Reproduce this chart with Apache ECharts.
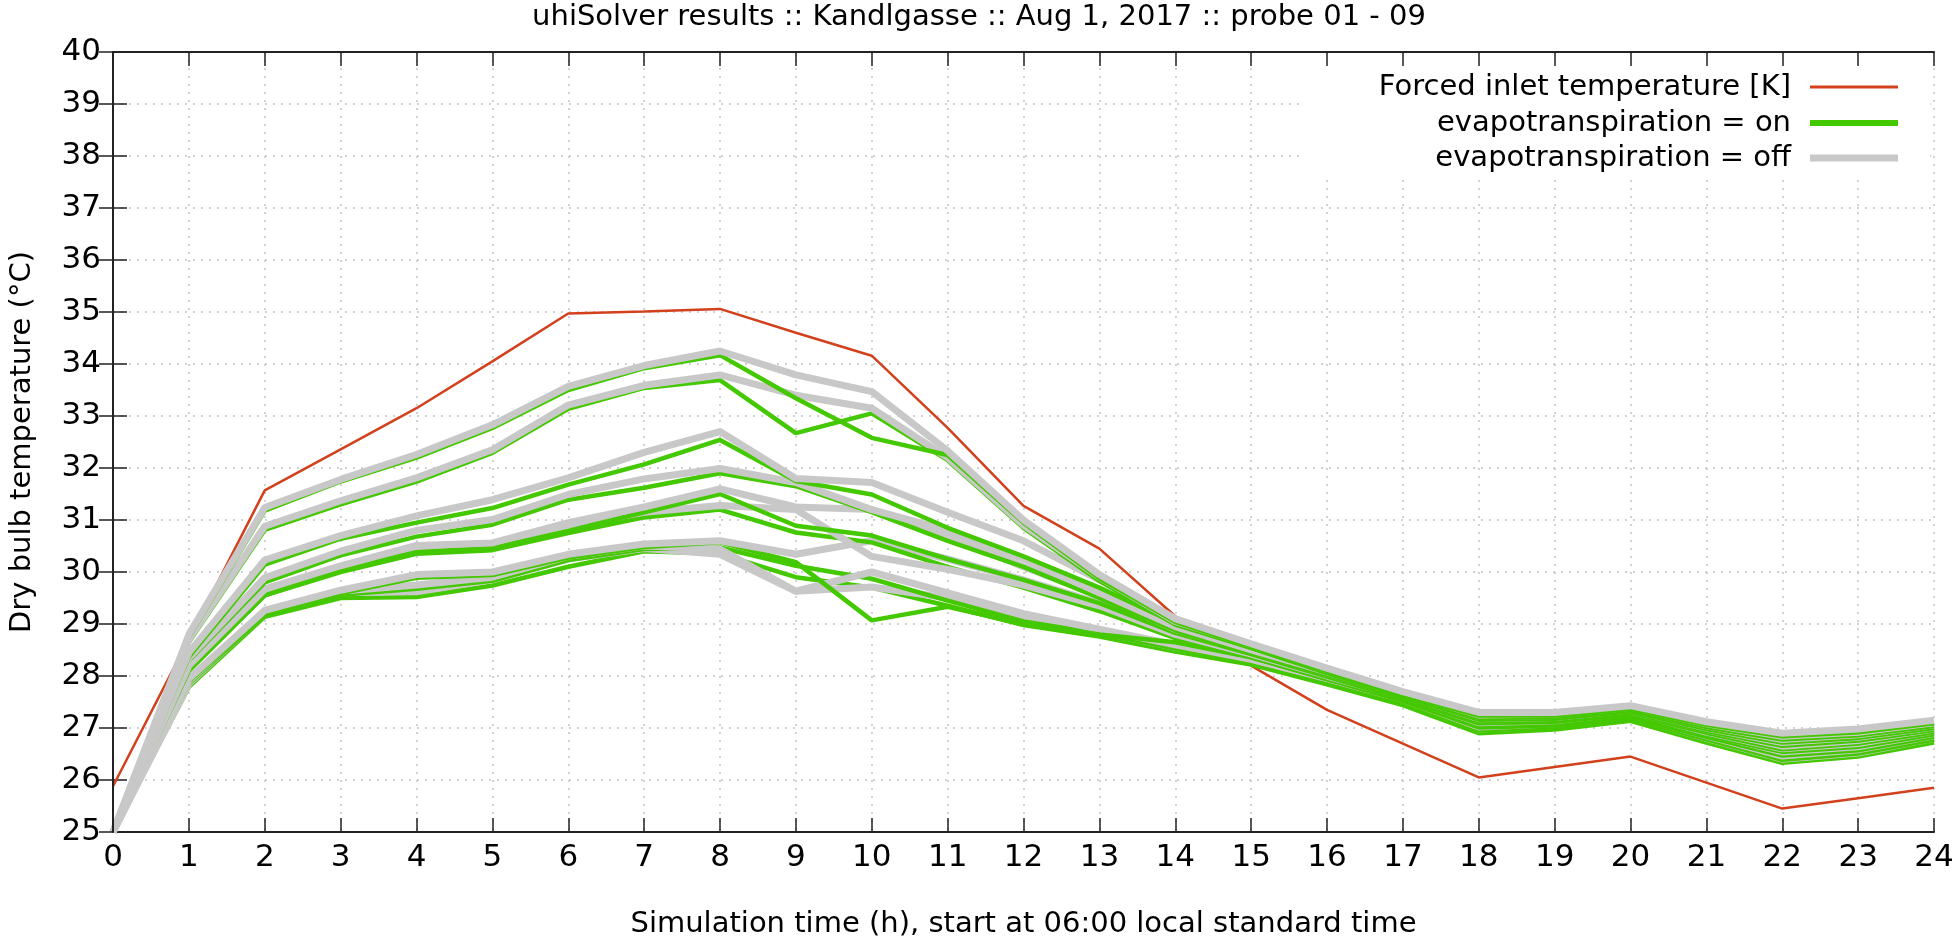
<!DOCTYPE html>
<html>
<head>
<meta charset="utf-8">
<script src="https://cdn.jsdelivr.net/npm/echarts@6/dist/echarts.min.js"></script>
<style>
html,body{margin:0;padding:0;background:#fff;}
#chart{width:1958px;height:944px;}
</style>
</head>
<body>
<div id="chart"></div>
<script>
// ---- data ----
const hours = [0,1,2,3,4,5,6,7,8,9,10,11,12,13,14,15,16,17,18,19,20,21,22,23,24];
const yTicks = [25,26,27,28,29,30,31,32,33,34,35,36,37,38,39,40];

const forcedInlet = [25.88,28.72,31.57,32.36,33.15,34.05,34.97,35.01,35.06,34.60,34.16,32.77,31.27,30.45,29.15,28.20,27.35,26.70,26.05,26.25,26.45,25.95,25.45,25.65,25.85];

const on01 = [25.0,28.75,31.18,31.74,32.20,32.77,33.50,33.92,34.17,33.34,32.58,32.25,30.95,29.88,29.04,28.56,28.09,27.64,27.24,27.24,27.37,27.06,26.84,26.92,27.09];
const on02 = [25.0,28.65,30.81,31.30,31.74,32.29,33.14,33.54,33.69,32.67,33.05,32.15,30.85,29.83,28.99,28.54,28.06,27.62,27.19,27.21,27.34,27.02,26.78,26.86,27.04];
const on03 = [25.0,28.37,30.14,30.64,30.95,31.23,31.68,32.07,32.54,31.75,31.49,30.85,30.30,29.70,29.02,28.54,28.06,27.62,27.16,27.18,27.32,26.98,26.72,26.81,27.00];
const on04 = [25.0,28.30,29.80,30.32,30.68,30.91,31.39,31.62,31.90,31.65,31.15,30.60,30.10,29.50,28.88,28.44,28.02,27.59,27.12,27.14,27.29,26.94,26.66,26.76,26.96];
const on05 = [25.0,28.15,29.55,30.04,30.38,30.46,30.79,31.15,31.50,30.89,30.70,30.25,29.85,29.40,28.83,28.42,27.99,27.56,27.09,27.12,27.26,26.91,26.59,26.70,26.92];
const on06 = [25.0,28.10,29.55,30.00,30.35,30.42,30.75,31.05,31.20,30.76,30.57,30.10,29.70,29.25,28.73,28.36,27.94,27.54,27.04,27.08,27.24,26.86,26.54,26.64,26.88];
const on07 = [25.0,27.90,29.20,29.59,29.89,29.94,30.28,30.48,30.57,30.19,29.07,29.33,29.00,28.80,28.65,28.36,27.94,27.52,27.01,27.05,27.21,26.83,26.47,26.57,26.83];
const on08 = [25.0,27.85,29.18,29.56,29.68,29.83,30.23,30.44,30.47,30.12,29.87,29.45,29.05,28.82,28.53,28.25,27.88,27.48,26.95,27.01,27.18,26.78,26.39,26.51,26.78];
const on09 = [25.0,27.79,29.14,29.50,29.52,29.74,30.10,30.40,30.35,29.90,29.70,29.35,28.98,28.76,28.47,28.22,27.84,27.44,26.90,26.97,27.14,26.72,26.33,26.45,26.72];

const off01 = [25.0,28.80,31.24,31.78,32.26,32.83,33.57,33.97,34.25,33.79,33.47,32.33,31.00,29.95,29.10,28.62,28.15,27.70,27.30,27.30,27.43,27.12,26.90,26.98,27.15];
const off02 = [25.0,28.70,30.88,31.37,31.81,32.35,33.21,33.59,33.79,33.40,33.15,32.20,30.90,29.90,29.05,28.60,28.12,27.68,27.25,27.27,27.40,27.08,26.84,26.92,27.10];
const off03 = [25.0,28.45,30.23,30.70,31.08,31.39,31.81,32.30,32.70,31.80,31.72,31.15,30.60,29.85,29.10,28.60,28.12,27.68,27.22,27.24,27.38,27.04,26.78,26.87,27.06];
const off04 = [25.0,28.35,29.89,30.40,30.80,31.01,31.49,31.79,31.99,31.72,31.20,30.80,30.25,29.60,28.95,28.50,28.08,27.65,27.18,27.20,27.35,27.00,26.72,26.82,27.02];
const off05 = [25.0,28.20,29.67,30.12,30.51,30.56,30.95,31.25,31.60,31.25,31.20,30.70,30.10,29.55,28.90,28.48,28.05,27.62,27.15,27.18,27.32,26.97,26.65,26.76,26.98];
const off06 = [25.0,28.20,29.67,30.10,30.48,30.52,30.90,31.15,31.28,31.20,30.30,30.05,29.75,29.35,28.80,28.42,28.00,27.60,27.10,27.14,27.30,26.92,26.60,26.70,26.94];
const off07 = [25.0,27.95,29.26,29.65,29.95,30.00,30.34,30.54,30.60,30.34,30.60,30.25,29.85,29.40,28.85,28.45,28.02,27.60,27.08,27.12,27.28,26.90,26.54,26.64,26.90];
const off08 = [25.0,27.90,29.26,29.63,29.75,29.90,30.30,30.50,30.44,29.63,30.00,29.60,29.20,28.90,28.60,28.32,27.95,27.55,27.02,27.08,27.25,26.85,26.46,26.58,26.85];
const off09 = [25.0,27.85,29.22,29.60,29.62,29.85,30.25,30.45,30.34,29.63,29.71,29.50,29.10,28.85,28.55,28.30,27.92,27.52,26.98,27.05,27.22,26.80,26.40,26.52,26.80];

const onSets = [on01,on02,on03,on04,on05,on06,on07,on08,on09];
const offSets = [off01,off02,off03,off04,off05,off06,off07,off08,off09];

const NAME_RED = 'Forced inlet temperature [K]';
const NAME_ON = 'evapotranspiration = on';
const NAME_OFF = 'evapotranspiration = off';
const RED = '#d2401c';
const GREEN = '#44c800';
const GRAY = '#c8c8c8';
const FONT = 'DejaVu Sans';
const FS = 29;
const FS_TICK = 31;

function pairs(arr){ return hours.map((h,i)=>[h, arr[i]]); }

const series = [];
series.push({
  name: NAME_RED, type:'line', data: pairs(forcedInlet), symbol:'none',
  color: RED, lineStyle:{color:RED, width:2.5}, itemStyle:{color:RED}, z:2
});
for (let i=8;i>=0;i--){
  series.push({
    name: NAME_ON, type:'line', data: pairs(onSets[i]), symbol:'none',
    color: GREEN, lineStyle:{color:GREEN, width:4.5}, itemStyle:{color:GREEN}, z:2
  });
  series.push({
    name: NAME_OFF, type:'line', data: pairs(offSets[i]), symbol:'none',
    color: GRAY, lineStyle:{color:GRAY, width:7}, itemStyle:{color:GRAY}, z:2
  });
}

function legend(name, top, h){
  return {
    data:[{name:name, icon:'rect'}], orient:'vertical', align:'right',
    right:60, top:top, padding:0, itemWidth:88, itemHeight:h, itemGap:0,
    itemStyle:{borderWidth:0},
    textStyle:{fontFamily:FONT, fontSize:FS, color:'#000', lineHeight:32, padding:[0,14,0,0]},
    selectedMode:false
  };
}

const chart = echarts.init(document.getElementById('chart'), null, {renderer:'canvas'});
chart.setOption({
  animation:false,
  backgroundColor:'#fff',
  title:{
    text:'uhiSolver results :: Kandlgasse :: Aug 1, 2017 :: probe 01 - 09',
    left:'center', top:3, padding:0,
    textStyle:{fontFamily:FONT, fontSize:FS, fontWeight:'normal', color:'#000'}
  },
  grid:{left:113, right:24, top:52, bottom:108, containLabel:false},
  legend:[legend(NAME_RED,71,3), legend(NAME_ON,107,6), legend(NAME_OFF,142,7)],
  graphic:[{type:'rect', z:1, shape:{x:1302, y:54, width:628, height:124}, style:{fill:'#fff'}, silent:true}],
  xAxis:[{
    type:'value', min:0, max:24, interval:1, position:'bottom',
    name:'Simulation time (h), start at 06:00 local standard time',
    nameLocation:'middle', nameGap:78,
    nameTextStyle:{fontFamily:FONT, fontSize:FS, color:'#000'},
    axisLine:{lineStyle:{color:'#222', width:2}},
    axisTick:{inside:true, length:14, lineStyle:{color:'#222', width:1.5}},
    axisLabel:{fontFamily:FONT, fontSize:FS_TICK, color:'#000', margin:10},
    splitLine:{show:true, lineStyle:{color:'#c4c4c4', width:1.5, type:[2,6]}}
  },{
    type:'value', min:0, max:24, interval:1, position:'top', z:3,
    axisLine:{lineStyle:{color:'#222', width:2}},
    axisTick:{inside:true, length:14, lineStyle:{color:'#222', width:1.5}},
    axisLabel:{show:false}, splitLine:{show:false}
  }],
  yAxis:[{
    type:'value', min:25, max:40, interval:1, position:'left',
    name:'Dry bulb temperature (°C)', nameLocation:'middle', nameGap:76, nameRotate:90,
    nameTextStyle:{fontFamily:FONT, fontSize:FS, color:'#000'},
    axisLine:{show:true, lineStyle:{color:'#222', width:2}},
    axisTick:{show:true, inside:true, length:14, lineStyle:{color:'#222', width:1.5}},
    axisLabel:{fontFamily:FONT, fontSize:FS_TICK, color:'#000', margin:12,
      formatter:function(v){ return yTicks.indexOf(v)>=0 ? String(v) : ''; }},
    splitLine:{show:true, lineStyle:{color:'#c4c4c4', width:1.5, type:[2,6]}}
  },{
    type:'value', min:25, max:40, interval:1, position:'right', z:3,
    axisLine:{show:true, lineStyle:{color:'#222', width:2}},
    axisTick:{show:true, inside:true, length:14, lineStyle:{color:'#222', width:1.5}},
    axisLabel:{show:false}, splitLine:{show:false}
  }],
  series: series
});
</script>
</body>
</html>
